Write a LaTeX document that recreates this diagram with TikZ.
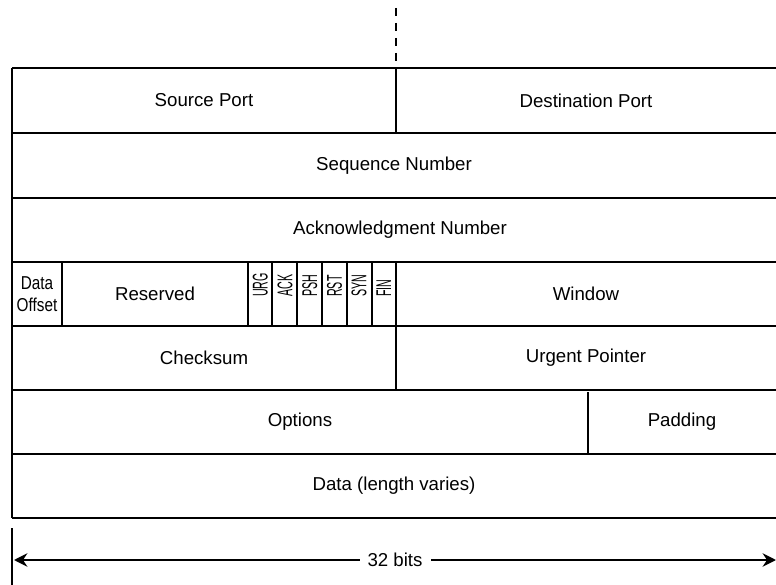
\documentclass[tikz,border=0pt]{standalone}
\usepackage{fontspec}
\setmainfont{Liberation Sans}
\usetikzlibrary{arrows.meta}
\tikzstyle{rule} = [line width=1.7pt]
\tikzstyle{fieldtext} = [inner sep=0pt, font=\fontsize{14}{16}\selectfont]
\tikzstyle{smalltext} = [inner sep=0pt, align=center, font=\fontsize{14}{16.5}\selectfont]
\tikzstyle{flag} = [inner sep=0pt, rotate=90, anchor=west, font=\fontsize{16}{18}\selectfont]
\tikzstyle{arrow} = [line width=1.7pt, {Stealth[length=10pt, width=10pt]}-{Stealth[length=10pt, width=10pt]}]

\begin{document}
\begin{tikzpicture}[x=0.75pt, y=-0.75pt]
    \useasboundingbox (0,0) rectangle (776,585);

    % Grid
    \draw [rule, dash pattern=on 6pt off 5.25pt] (396,8) -- (396,68);
    \foreach \y in {68,133,198,262,326,390,454,518}
        \draw [rule] (12,\y) -- (778,\y);
    \draw [rule] (12,68) -- (12,518);
    \draw [rule] (396,68) -- (396,133);
    \foreach \x in {62,248,272,297,322,347,372,396}
        \draw [rule] (\x,262) -- (\x,326);
    \draw [rule] (396,326) -- (396,390);
    \draw [rule] (588,392) -- (588,454);

    % Nodes
    \node (src) [fieldtext] at (204,100.5) {Source Port};
    \node (dst) [fieldtext] at (586,100.5) {Destination Port};
    \node (seq) [fieldtext] at (394,165.5) {Sequence Number};
    \node (ack) [fieldtext] at (400,230) {Acknowledgment Number};
    \node (offset) [smalltext] at (37,294) {\scalebox{0.82}[1]{Data}\\\scalebox{0.82}[1]{Offset}};
    \node (reserved) [fieldtext] at (155,294) {Reserved};
    \foreach \f [count=\i] in {URG,ACK,PSH,RST,SYN,FIN}
        \node (\f) [flag] at (248+24.7*\i-12.35,297) {\scalebox{0.5}[1]{\f}};
    \node (window) [fieldtext] at (586,294) {Window};
    \node (checksum) [fieldtext] at (204,358) {Checksum};
    \node (urgent) [fieldtext] at (586,358) {Urgent Pointer};
    \node (options) [fieldtext] at (300,422) {Options};
    \node (padding) [fieldtext] at (682,422) {Padding};
    \node (data) [fieldtext] at (394,486) {Data (length varies)};

    % Width arrow
    \draw [rule] (12,528) -- (12,585);
    \coordinate (leftend) at (14,560);
    \coordinate (rightend) at (776,560);
    \draw [arrow] (leftend) -- node[fill=white, inner xsep=6pt, inner ysep=2pt, font=\fontsize{14}{16}\selectfont] (bits) {32 bits} (rightend);

\end{tikzpicture}
\end{document}
